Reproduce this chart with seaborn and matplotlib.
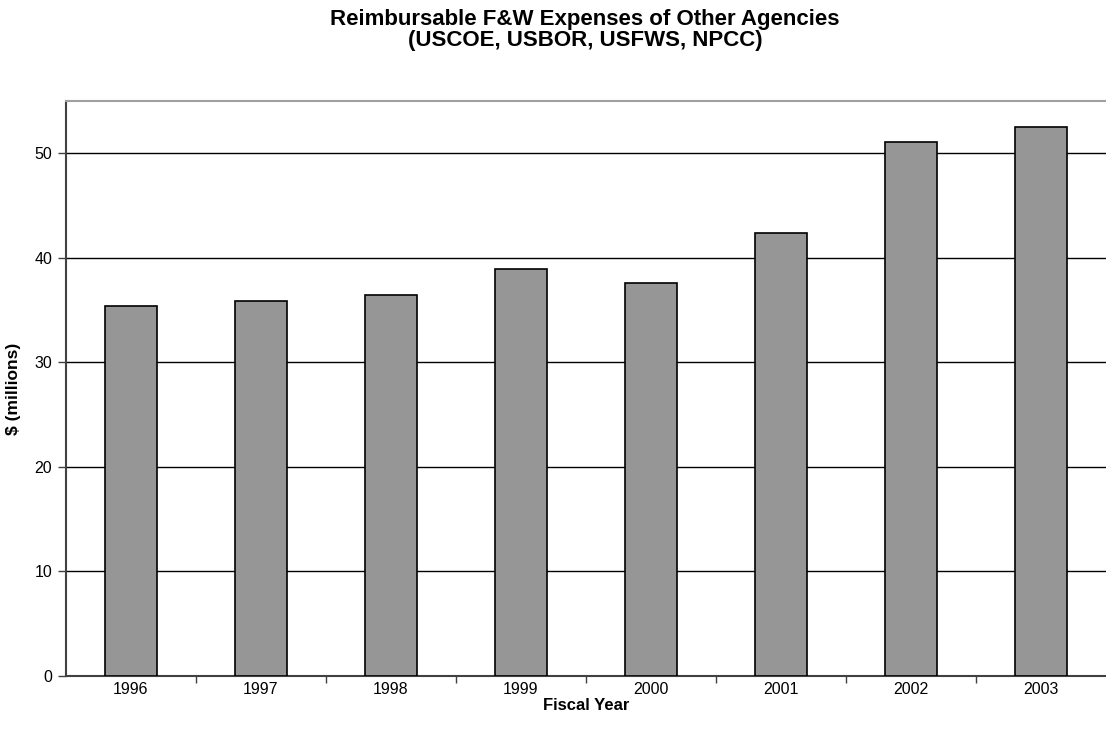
import matplotlib
matplotlib.use("Agg")
import matplotlib.pyplot as plt
import seaborn as sns
import pandas as pd
import numpy as np

# Fiscal-year reimbursable F&W expenses, $ millions
years = ["1996", "1997", "1998", "1999", "2000", "2001", "2002", "2003"]
expenses = [35.4, 35.85, 36.4, 38.9, 37.6, 42.35, 51.1, 52.5]
y_ticks = [0, 10, 20, 30, 40, 50]

df = pd.DataFrame({"year": years, "expense": expenses})

sns.set_theme(style="white")
plt.rcParams["font.family"] = ["Liberation Sans", "DejaVu Sans"]
plt.rcParams.update({"text.color": "black", "axes.labelcolor": "black",
                     "xtick.color": "black", "ytick.color": "black"})

W, H = 1106, 738
fig = plt.figure(figsize=(W / 100, H / 100), dpi=100)
ax = fig.add_axes([66 / W, 1 - 676 / H, 1 - 66 / W, (676 - 101) / H])

sns.barplot(data=df, x="year", y="expense", color="#969696", saturation=1,
            width=0.4, edgecolor="black", linewidth=1.2, ax=ax, zorder=3)

ax.set_ylim(0, 55)
ax.set_xlim(-0.5, len(years) - 0.5)
ax.set_yticks(y_ticks)
ax.yaxis.grid(True, color="black", linewidth=1.0, zorder=0)
ax.set_axisbelow(True)

# category labels centred under bars, tick marks on the category boundaries
ax.set_xticks(range(len(years)))
ax.set_xticklabels(years)
ax.set_xticks(np.arange(0.5, len(years) - 0.5, 1), minor=True)
ax.tick_params(axis="x", which="major", length=0, pad=4, labelsize=11.5)
ax.tick_params(axis="x", which="minor", length=5, width=1, color="#404040",
               direction="out", bottom=True)
ax.tick_params(axis="y", which="major", length=6, width=1, color="#404040",
               labelcolor="black", direction="out", left=True, pad=4,
               labelsize=11.5)

for side in ["left", "bottom"]:
    ax.spines[side].set_color("#404040")
    ax.spines[side].set_linewidth(1.5)
ax.spines["top"].set_color("#a0a0a0")
ax.spines["top"].set_linewidth(1.5)
ax.spines["right"].set_visible(False)

# axis titles
ax.set_xlabel("Fiscal Year", fontsize=12, fontweight="bold")
ax.xaxis.label.set_verticalalignment("center")
ax.xaxis.set_label_coords((586 - 66) / 1040, -(705 - 676) / 575)
ax.set_ylabel("$ (millions)", fontsize=12.5, fontweight="bold")
ax.yaxis.label.set_verticalalignment("center")
ax.yaxis.set_label_coords((14 - 66) / 1040, 0.5)

# chart title
fig.text(585 / W, 1 - 30 / H,
         "Reimbursable F&W Expenses of Other Agencies\n(USCOE, USBOR, USFWS, NPCC)",
         ha="center", va="center", fontsize=16, fontweight="bold",
         linespacing=1.0)

fig.savefig("out.png", dpi=100, facecolor="white")
